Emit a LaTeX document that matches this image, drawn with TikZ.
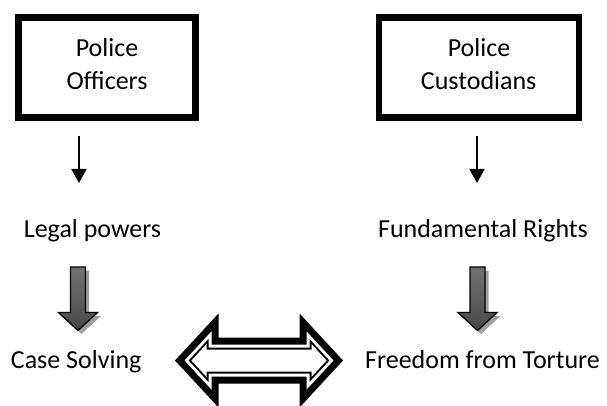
\documentclass[tikz,border=0pt]{standalone}
\usepackage{fontspec}
\setmainfont{Carlito}
\usetikzlibrary{arrows.meta}
\newcommand{\lrarrowpath}[4]{(-#1,0) -- (-#2,-#3) -- (-#2,-#4) -- (#2,-#4) -- (#2,-#3) -- (#1,0) -- (#2,#3) -- (#2,#4) -- (-#2,#4) -- (-#2,#3) -- cycle}
\newcommand{\fatarrowpath}[1]{(#1-7.5,267) -- (#1+7.5,267) -- (#1+7.5,312.5) -- (#1+19.5,312.5) -- (#1,330.5) -- (#1-19.5,312.5) -- (#1-7.5,312.5) -- cycle}
\begin{document}
\begin{tikzpicture}[x=1pt,y=-1pt,
  box/.style={draw=black, line width=6.6pt, inner sep=0pt, outer sep=0pt, minimum height=99.8pt},
  txt/.style={inner sep=0pt, anchor=base, font=\fontsize{26}{31.5}\selectfont},
  thinarrow/.style={line width=2pt, -{Triangle[width=15pt,length=14pt]}},
  fatarrow/.style={draw=black, line width=1.3pt, top color=black!55, middle color=black, bottom color=black!72},
  fatshadow/.style={fill=black!38},
]
\useasboundingbox (0,0) rectangle (607,406);
\clip (0,0) rectangle (607,406);

% boxes
\node[box, minimum width=177.4pt] (bo) at (107,67.5) {};
\node[box, minimum width=200pt] (bc) at (479,67.5) {};
\node[txt] (bo1) at (107,56.7) {Police};
\node[txt] (bo2) at (107,89.3) {Officers};
\node[txt] (bc1) at (479,56.7) {Police};
\node[txt] (bc2) at (478.7,89.3) {Custodians};

% thin arrows
\coordinate (la1) at (79,136);
\coordinate (la2) at (79,183);
\coordinate (ra1) at (477,136);
\coordinate (ra2) at (477,183);
\draw[thinarrow] (la1) -- (la2);
\draw[thinarrow] (ra1) -- (ra2);

% middle texts
\node[txt] (lp) at (92.5,237.3) {Legal powers};
\node[txt] (fr) at (483,237.3) {Fundamental Rights};

% fat gradient arrows
\fill[fatshadow, shift={(3.5,3.5)}] \fatarrowpath{78};
\shadedraw[fatarrow] \fatarrowpath{78};
\fill[fatshadow, shift={(3.5,3.5)}] \fatarrowpath{477.5};
\shadedraw[fatarrow] \fatarrowpath{477.5};

% bottom texts
\node[txt] (cs) at (76.2,368.3) {Case Solving};
\node[txt] (ft) at (482.5,368.3) {Freedom from Torture};

% double arrow
\begin{scope}[shift={(259,360.5)}]
\fill[black] \lrarrowpath{84}{40.5}{47}{23};
\fill[white] \lrarrowpath{74.46}{47.5}{29.13}{16};
\fill[black] \lrarrowpath{70.375}{50.5}{21.47}{13};
\fill[white] \lrarrowpath{67.65}{52.5}{16.37}{11};
\end{scope}
\end{tikzpicture}
\end{document}
